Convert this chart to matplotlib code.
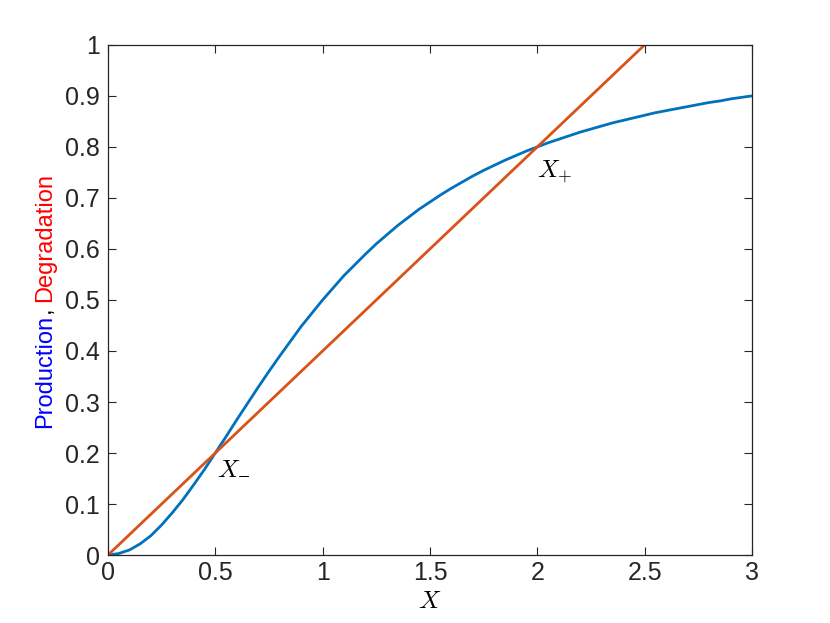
import matplotlib
matplotlib.use("Agg")
import matplotlib.pyplot as plt

plt.rcParams["font.family"] = ["Liberation Sans", "DejaVu Sans"]
plt.rcParams["mathtext.fontset"] = "cm"

# production curve
x_prod = [0.00, 0.05, 0.10, 0.15, 0.20, 0.25, 0.30, 0.35, 0.40, 0.45,
          0.50, 0.55, 0.60, 0.65, 0.70, 0.75, 0.80, 0.85, 0.90, 0.95,
          1.00, 1.05, 1.10, 1.15, 1.20, 1.25, 1.30, 1.35, 1.40, 1.45,
          1.50, 1.55, 1.60, 1.65, 1.70, 1.75, 1.80, 1.85, 1.90, 1.95,
          2.00, 2.05, 2.10, 2.15, 2.20, 2.25, 2.30, 2.35, 2.40, 2.45,
          2.50, 2.55, 2.60, 2.65, 2.70, 2.75, 2.80, 2.85, 2.90, 2.95, 3.00]
y_prod = [0.000, 0.003, 0.010, 0.022, 0.038, 0.059, 0.083, 0.109, 0.138, 0.168,
          0.200, 0.232, 0.265, 0.297, 0.329, 0.360, 0.390, 0.419, 0.448, 0.474,
          0.500, 0.524, 0.548, 0.569, 0.590, 0.610, 0.628, 0.646, 0.662, 0.678,
          0.692, 0.706, 0.719, 0.731, 0.743, 0.754, 0.764, 0.774, 0.783, 0.792,
          0.800, 0.808, 0.815, 0.822, 0.829, 0.835, 0.841, 0.847, 0.852, 0.857,
          0.862, 0.867, 0.871, 0.875, 0.879, 0.883, 0.887, 0.890, 0.894, 0.897, 0.900]

# degradation line
x_deg = [0.0, 2.5]
y_deg = [0.0, 1.0]

x_ticks = [0, 0.5, 1, 1.5, 2, 2.5, 3]
x_ticklabels = ["0", "0.5", "1", "1.5", "2", "2.5", "3"]
y_ticks = [0, 0.1, 0.2, 0.3, 0.4, 0.5, 0.6, 0.7, 0.8, 0.9, 1]
y_ticklabels = ["0", "0.1", "0.2", "0.3", "0.4", "0.5", "0.6", "0.7", "0.8", "0.9", "1"]

BLUE = "#0072BD"
ORANGE = "#D95319"
EDGE = "#262626"

fig = plt.figure(figsize=(8.3, 6.23), dpi=100)
ax = fig.add_axes([0.130, 0.109, 0.776, 0.819])

ax.plot(x_prod, y_prod, color=BLUE, lw=2.0, solid_capstyle="butt")
ax.plot(x_deg, y_deg, color=ORANGE, lw=2.0, solid_capstyle="butt")

ax.set_xlim(0, 3)
ax.set_ylim(0, 1)
ax.set_xticks(x_ticks)
ax.set_xticklabels(x_ticklabels)
ax.set_yticks(y_ticks)
ax.set_yticklabels(y_ticklabels)
ax.tick_params(direction="in", top=True, right=True, length=6, width=0.8,
               color=EDGE, labelcolor=EDGE, labelsize=18)
ax.tick_params(axis="x", pad=4)
ax.tick_params(axis="y", pad=6)
for sp in ax.spines.values():
    sp.set_color(EDGE)
    sp.set_linewidth(0.9)

# intersection labels (plain "-" subscript vanishes at this size, use \minus)
ax.text(0.51, 0.173, r"$X_{\minus}$", fontsize=18, ha="left", va="center", color="black")
ax.text(2.0, 0.751, r"$X_{+}$", fontsize=18, ha="left", va="center", color="black")
ax.set_xlabel(r"$X$", fontsize=18, labelpad=3)

# y label in three colours, stacked bottom to top
fig.canvas.draw()
renderer = fig.canvas.get_renderer()
parts = [("Production", "blue"), (", ", "black"), ("Degradation", "red")]
x_lab = 45.5 / 830
y_px = 623 - 428
for txt, col in parts:
    t = fig.text(x_lab, y_px / 623, txt, rotation=90, color=col, fontsize=17,
                 ha="center", va="bottom")
    bb = t.get_window_extent(renderer)
    y_px += bb.height

fig.savefig("out.png", dpi=100)
